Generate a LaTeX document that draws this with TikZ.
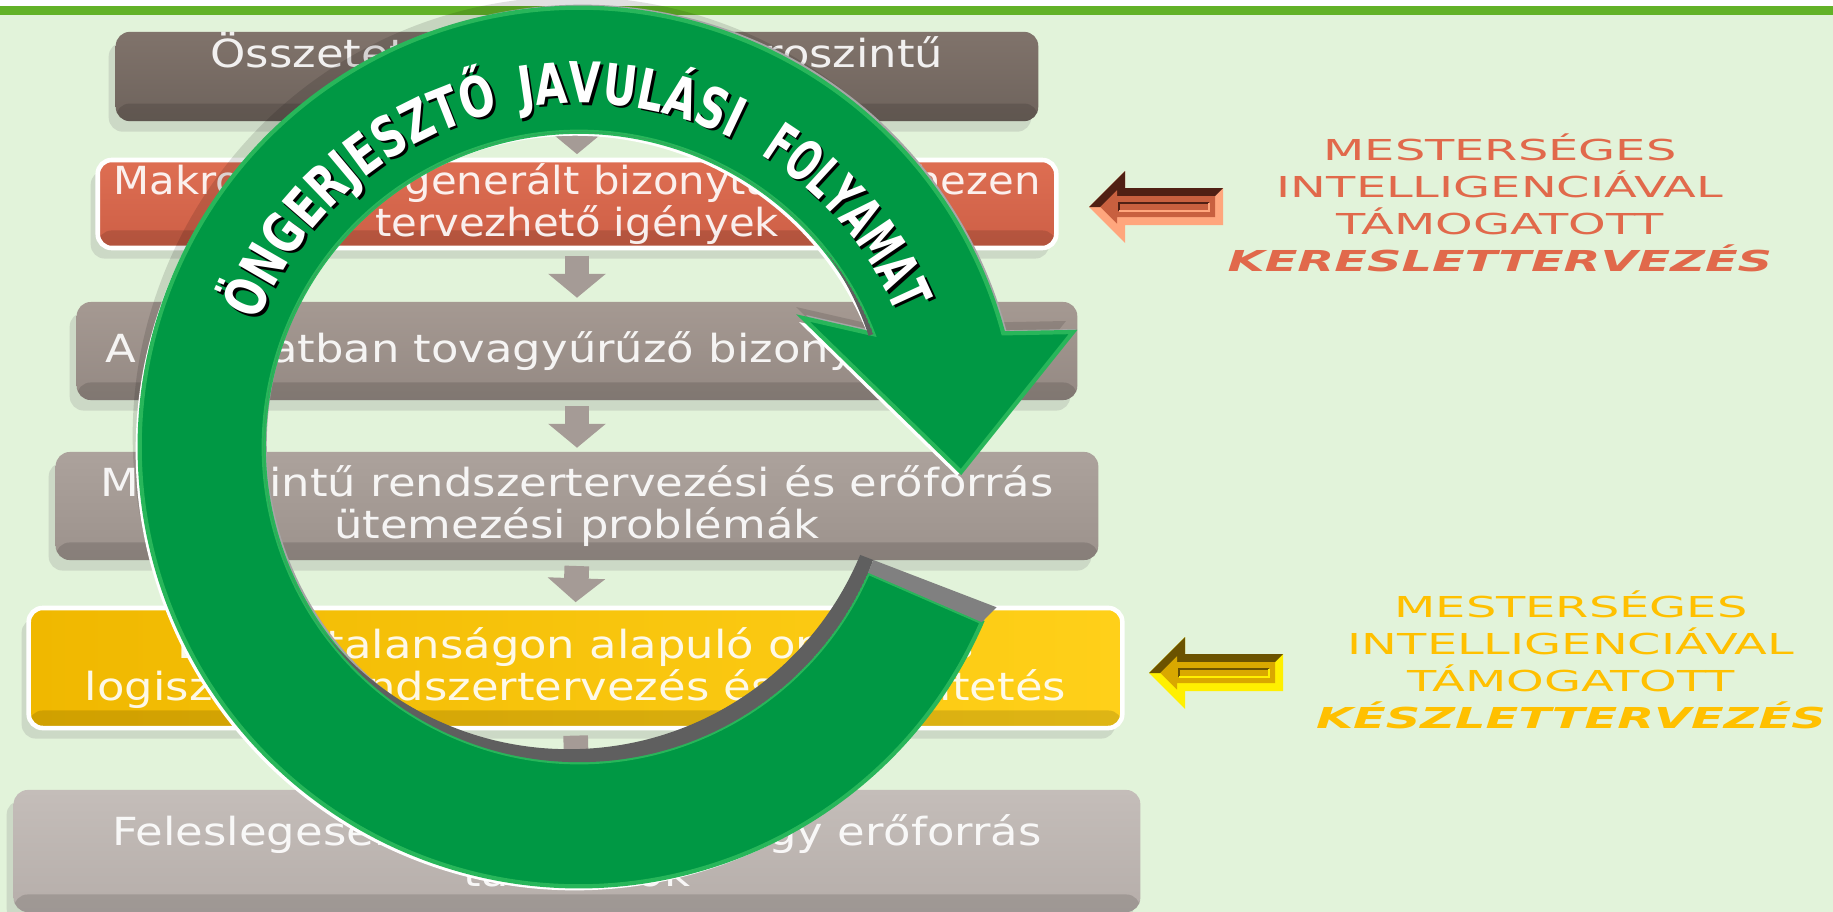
\documentclass[tikz,border=0pt]{standalone}
\usepackage{fontspec}
\usetikzlibrary{arrows.meta,shadows,decorations.text}

\newfontfamily\boxfont{DejaVu Sans}[FakeStretch=1.16]
\newfontfamily\boxnarrow{DejaVu Sans}[FakeStretch=1.08]
\newfontfamily\sidefont{DejaVu Sans}[FakeStretch=1.66]
\newfontfamily\ringfont{DejaVu Sans}[FakeStretch=0.74]
\newfontfamily\ringnarrow{DejaVu Sans}[FakeStretch=0.62]

\definecolor{bggreen}{RGB}{226,243,218}
\definecolor{topgreen}{RGB}{98,178,40}
\definecolor{boxatop}{RGB}{128,115,107}
\definecolor{boxabot}{RGB}{110,99,92}
\definecolor{boxbtop}{RGB}{222,110,82}
\definecolor{boxbbot}{RGB}{205,95,70}
\definecolor{boxctop}{RGB}{165,153,146}
\definecolor{boxcbot}{RGB}{148,137,131}
\definecolor{boxdtop}{RGB}{172,162,156}
\definecolor{boxdbot}{RGB}{156,146,140}
\definecolor{boxeleft}{RGB}{240,184,0}
\definecolor{boxeright}{RGB}{255,208,25}
\definecolor{boxftop}{RGB}{196,189,185}
\definecolor{boxfbot}{RGB}{182,174,170}
\definecolor{flowgray}{RGB}{165,155,150}
\definecolor{ringgreen}{RGB}{0,152,68}
\definecolor{ringlight}{RGB}{40,182,90}
\definecolor{wallgray}{RGB}{95,95,95}
\definecolor{orangetext}{RGB}{225,105,75}
\definecolor{yellowtext}{RGB}{255,192,0}
\definecolor{orangeface}{RGB}{200,96,63}
\definecolor{orangedark}{RGB}{80,32,20}
\definecolor{orangelight}{RGB}{255,166,125}
\definecolor{yellowface}{RGB}{217,168,0}
\definecolor{yellowdark}{RGB}{107,82,0}
\definecolor{yellowlight}{RGB}{255,240,0}

% the circular arrow, drawn round the origin
\newcommand{\ringshape}{(-23.5:4.39cm) arc[start angle=-23.5, end angle=-345, radius=4.39cm]
  -- (494,-115) -- (382,25) -- (224,-129)
  -- (21:3.15cm) arc[start angle=21, end angle=336.5, radius=3.15cm] -- cycle}

\tikzset{pics/bevelarrow/.style n args={3}{code={
  \fill[#3] (0,0) -- (36,-36) -- (36,-19) -- (134,-19) -- (134,18) -- (36,18) -- (36,36) -- cycle;
  \fill[#2] (0,0) -- (36,-36) -- (36,-19) -- (134,-19) -- (126,-11) -- (28,-11) -- (28,-16.7) -- (11.3,0) -- cycle;
  \fill[#1] (11.3,0) -- (28,-16.7) -- (28,-11) -- (126,-11) -- (126,10) -- (28,10) -- (28,16.7) -- cycle;
  \draw[#2, line width=.5pt] (30,4) -- (30,-4) -- (120,-4);
  \draw[#3, line width=.5pt] (30,4) -- (120,4) -- (120,-4);
}}}

\begin{document}
\begin{tikzpicture}[x=0.01cm, y=-0.01cm]

\tikzset{stepbox/.style={rounded corners=4pt, inner sep=0pt, align=center, text=white, text opacity=.9,
    font=\boxfont\fontsize{11}{11.8}\selectfont,
    drop shadow={opacity=.22, shadow xshift=-2pt, shadow yshift=-3pt},
    path picture={\fill[black, opacity=.13] (path picture bounding box.south west) rectangle ([yshift=5pt]path picture bounding box.south east);}}}
\tikzset{flowarrow/.style={draw=flowgray, line width=7pt, -{Triangle[width=16pt,length=6.8pt]}, shorten <=1.5pt, shorten >=1pt}}
\tikzset{sidetext/.style={align=center, inner sep=0pt, font=\sidefont\fontsize{8.2}{10.5}\selectfont}}
\tikzset{ringtext/.style n args={3}{decorate, decoration={text along path, text align=center, text color=#1,
    text={|#3\bfseries\fontsize{16}{17}\selectfont|#2}}}}

\useasboundingbox (0,0) rectangle (1833,912);
% background
\fill[bggreen] (0,0) rectangle (1833,912);
\fill[white] (0,0) rectangle (1833,6);
\fill[topgreen] (0,6) rectangle (1833,15);

% steps
\node[stepbox, top color=boxatop, bottom color=boxabot, minimum width=9.22cm, minimum height=0.87cm] (b1) at (577,76.5) {Összetett, hálózatos mikroszintű\\\strut};
\node[stepbox, top color=boxbtop, bottom color=boxbbot, draw=white, line width=1.3pt, minimum width=9.58cm, minimum height=0.88cm, font=\boxnarrow\fontsize{11}{11.8}\selectfont] (b2) at (577,204) {Makroszinten generált bizonytalan, nehezen\\tervezhető igények};
\node[stepbox, top color=boxctop, bottom color=boxcbot, minimum width=10cm, minimum height=0.98cm] (b3) at (577,351) {A hálózatban tovagyűrűző bizonytalanság};
\node[stepbox, top color=boxdtop, bottom color=boxdbot, minimum width=10.42cm, minimum height=1.08cm] (b4) at (577,506) {Mikroszintű rendszertervezési és erőforrás\\ütemezési problémák};
\node[stepbox, left color=boxeleft, right color=boxeright, draw=white, line width=1.3pt, minimum width=10.93cm, minimum height=1.2cm] (b5) at (575.5,668) {Bizonytalanságon alapuló optimális\\logisztikai rendszertervezés és üzemeltetés};
\node[stepbox, top color=boxftop, bottom color=boxfbot, minimum width=11.26cm, minimum height=1.22cm] (b6) at (577,851) {Feleslegesen lekötött tőke vagy erőforrás\\tartalékok};

\draw[flowarrow] (b1.south) -- (b2.north);
\draw[flowarrow] (b2.south) -- (b3.north);
\draw[flowarrow] (b3.south) -- (b4.north);
\draw[flowarrow] (b4.south) -- (b5.north);
\draw[flowarrow] (b5.south) -- (b6.north);

% self-exciting loop
\begin{scope}[shift={(572,436)}]
  \fill[black, opacity=.12] \ringshape;
\end{scope}
\begin{scope}[shift={(582,444)}]
  \fill[gray!70] \ringshape;
\end{scope}
\begin{scope}[shift={(575,451)}]
  \fill[white] \ringshape;
\end{scope}
\begin{scope}[shift={(579,447)}]
  \fill[ringgreen, draw=ringlight, line width=1.2pt] \ringshape;
  \begin{scope}
    \clip (0,0) -- (-21:6cm) -- (-90:6cm) -- (180:6cm) -- (90:6cm) -- (21:6cm) -- cycle;
    \clip (0,0) circle (3.15cm);
    \fill[wallgray, even odd rule] (0,0) circle (3.15cm) (-10,-13) circle (3.15cm);
  \end{scope}
  \fill[gray] (-21:3.15cm) -- (-21:4.47cm) -- (-23.5:4.39cm) -- (-23.5:3.15cm) -- cycle;
  % words along the ring, shadow first
  \path[ringtext={black}{ÖNGERJESZTŐ}{\ringfont}, shift={(2.5,2.5)}] (162:3.44cm) arc[start angle=162, end angle=100, radius=3.44cm];
  \path[ringtext={black}{JAVULÁSI}{\ringfont}, shift={(2.5,2.5)}] (102:3.44cm) arc[start angle=102, end angle=61, radius=3.44cm];
  \path[ringtext={black}{FOLYAMAT}{\ringnarrow}, shift={(2.5,2.5)}] (62:3.44cm) arc[start angle=62, end angle=19, radius=3.44cm];
  \path[ringtext={white}{ÖNGERJESZTŐ}{\ringfont}] (162:3.44cm) arc[start angle=162, end angle=100, radius=3.44cm];
  \path[ringtext={white}{JAVULÁSI}{\ringfont}] (102:3.44cm) arc[start angle=102, end angle=61, radius=3.44cm];
  \path[ringtext={white}{FOLYAMAT}{\ringnarrow}] (62:3.44cm) arc[start angle=62, end angle=19, radius=3.44cm];
\end{scope}

% AI support
\pic at (1089,207) {bevelarrow={orangeface}{orangedark}{orangelight}};
\node[sidetext, text=orangetext] (kereslet) at (1500,203) {MESTERSÉGES\\INTELLIGENCIÁVAL\\TÁMOGATOTT\\{\bfseries\itshape KERESLETTERVEZÉS}};
\pic at (1149,673) {bevelarrow={yellowface}{yellowdark}{yellowlight}};
\node[sidetext, text=yellowtext] (keszlet) at (1571,660) {MESTERSÉGES\\INTELLIGENCIÁVAL\\TÁMOGATOTT\\{\bfseries\itshape KÉSZLETTERVEZÉS}};

\end{tikzpicture}
\end{document}
